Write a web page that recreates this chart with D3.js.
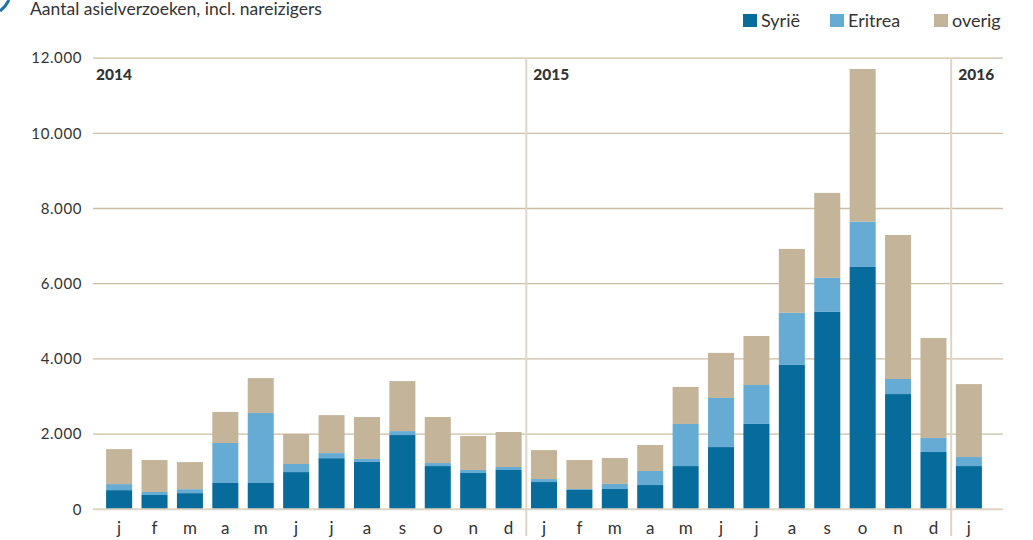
<!DOCTYPE html>
<html>
<head>
<meta charset="utf-8">
<script src="https://cdn.jsdelivr.net/npm/d3@7"></script>
<style>
  body { margin: 0; background: #fff; }
  text { font-family: Lato, 'Open Sans', sans-serif; fill: #333; }
</style>
</head>
<body>
<script>
// month labels, 2014 j..d, 2015 j..d, 2016 j
const months = ['j','f','m','a','m','j','j','a','s','o','n','d',
                'j','f','m','a','m','j','j','a','s','o','n','d','j']
const syrie = [510, 380, 430, 700, 700, 990, 1360, 1260, 1975, 1150, 965, 1045,
               725, 515, 540, 645, 1150, 1655, 2270, 3840, 5250, 6445, 3065, 1525, 1150]
const eritrea = [160, 80, 105, 1065, 1860, 215, 135, 80, 105, 80, 80, 80,
                 80, 25, 135, 375, 1120, 1305, 1035, 1385, 905, 1205, 400, 370, 240]
const overig = [930, 850, 720, 825, 930, 800, 1010, 1115, 1330, 1225, 905, 930,
                770, 770, 690, 690, 985, 1200, 1305, 1700, 2260, 4060, 3830, 2660, 1940]
const years = ['2014', '2015', '2016']
const yearStart = [0, 12, 24]
const yTicks = [0, 2000, 4000, 6000, 8000, 10000, 12000]
const seriesNames = ['Syrië', 'Eritrea', 'overig']
const colors = ['#076b9c', '#66abd4', '#c3b49a']

const w = 1033
const h = 540

const svg = d3.select('body').append('svg')
    .attr('width', w)
    .attr('height', h)

// stacked rows
const rows = months.map((m, i) => ({ i: i, s0: syrie[i], s1: eritrea[i], s2: overig[i] }))
const stack = d3.stack().keys(['s0', 's1', 's2'])
const stacked = stack(rows)

const x = d3.scaleBand()
    .domain(d3.range(months.length))
    .range([101.5, 986.5])
    .paddingInner(0.265)
    .paddingOuter(0.13)

const y = d3.scaleLinear()
    .domain([0, 12000])
    .range([509.3, 58.1])

const nl = d3.formatLocale({ decimal: ',', thousands: '.', grouping: [3], currency: ['€', ''] })

// little logo corner
svg.append('path')
    .attr('d', 'M9,0 Q6,6 0,11')
    .attr('fill', 'none')
    .attr('stroke', '#1f73ad')
    .attr('stroke-width', 3)

// title
svg.append('text')
    .attr('x', 30)
    .attr('y', 15)
    .style('font-size', '17.5px')
    .text('Aantal asielverzoeken, incl. nareizigers')

// gridlines
svg.append('g')
    .selectAll('line')
    .data(yTicks.filter(d => d > 0))
    .enter()
    .append('line')
    .attr('x1', 93)
    .attr('x2', 1003)
    .attr('y1', d => y(d))
    .attr('y2', d => y(d))
    .attr('stroke', '#cbbda3')
    .attr('stroke-width', 1.3)

// year separators
const step = x.step()
const sepX = i => x(i) - step * x.paddingInner() / 2
svg.append('g')
    .selectAll('line')
    .data(yearStart.slice(1))
    .enter()
    .append('line')
    .attr('x1', d => sepX(d))
    .attr('x2', d => sepX(d))
    .attr('y1', 58)
    .attr('y2', 536)
    .attr('stroke', '#ddd5c6')
    .attr('stroke-width', 2)

// bars
svg.append('g')
    .selectAll('g')
    .data(stacked)
    .enter()
    .append('g')
    .attr('fill', (d, k) => colors[k])
    .selectAll('rect')
    .data(d => d)
    .enter()
    .append('rect')
    .attr('x', d => x(d.data.i))
    .attr('width', x.bandwidth())
    .attr('y', d => y(d[1]))
    .attr('height', d => y(d[0]) - y(d[1]))

// baseline
svg.append('line')
    .attr('x1', 93)
    .attr('x2', 1003)
    .attr('y1', y(0))
    .attr('y2', y(0))
    .attr('stroke', '#ddd4c4')
    .attr('stroke-width', 2)

// y axis
const yAxis = d3.axisLeft(y)
    .tickValues(yTicks)
    .tickSize(0)
    .tickPadding(10)
    .tickFormat(nl.format(','))
const gy = svg.append('g')
    .attr('transform', 'translate(92,0)')
    .call(yAxis)
gy.select('.domain').remove()
gy.selectAll('text')
    .style('font-size', '15px')
    .style('letter-spacing', '0.6px')
    .attr('fill', '#333')

// x axis
const xAxis = d3.axisBottom(x)
    .tickSize(0)
    .tickFormat(i => months[i])
const gx = svg.append('g')
    .attr('transform', `translate(0,${y(0)})`)
    .call(xAxis)
gx.select('.domain').remove()
gx.selectAll('text')
    .attr('y', 25)
    .attr('dy', 0)
    .style('font-size', '17px')
    .attr('fill', '#333')

// year labels
svg.append('g')
    .selectAll('text')
    .data(years)
    .enter()
    .append('text')
    .attr('x', (d, k) => k === 0 ? 96 : sepX(yearStart[k]) + 7)
    .attr('y', 80)
    .style('font-size', '15.5px')
    .style('font-weight', 900)
    .attr('fill', '#111')
    .text(d => d)

// legend
const legX = [743, 830, 934]
const leg = svg.append('g')
    .selectAll('g')
    .data(seriesNames)
    .enter()
    .append('g')
    .attr('transform', (d, k) => `translate(${legX[k]},0)`)
leg.append('rect')
    .attr('x', 0)
    .attr('y', 14)
    .attr('width', 14)
    .attr('height', 13)
    .attr('fill', (d, k) => colors[k])
leg.append('text')
    .attr('x', 18)
    .attr('y', 27)
    .style('font-size', '18px')
    .text(d => d)
</script>
</body>
</html>
